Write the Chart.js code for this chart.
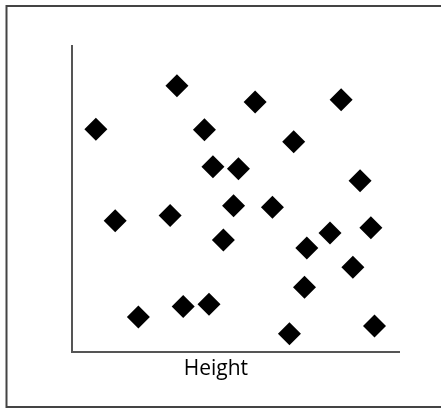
<!DOCTYPE html>
<html>
<head>
<meta charset="utf-8">
<script src="https://cdn.jsdelivr.net/npm/chart.js@4"></script>
<style>
  html, body { margin: 0; padding: 0; background: #fff; }
  #wrap { width: 441px; height: 409px; }
</style>
</head>
<body>
<div id="wrap"><canvas id="scatterChart" width="441" height="409"></canvas></div>
<script>
const xValues = [7.3, 32.1, 56.0, 82.3, 40.5, 67.8, 43.1, 50.9, 88.1, 13.2, 30.0, 49.4,
  61.3, 46.3, 71.8, 78.9, 91.4, 85.9, 71.1, 20.3, 34.0, 41.9, 66.5, 92.5];
const yValues = [72.8, 87.0, 81.7, 82.4, 72.6, 68.7, 60.5, 59.9, 56.0, 42.9, 44.6, 47.8,
  47.3, 36.6, 34.0, 38.9, 40.6, 27.7, 21.2, 11.4, 14.9, 15.6, 6.0, 8.5];
const xTitle = 'Height';

const points = xValues.map((x, i) => ({ x, y: yValues[i] }));

// frame round the picture + axis title
const framePlugin = {
  id: 'frame',
  beforeDraw(chart) {
    const ctx = chart.ctx;
    ctx.save();
    ctx.fillStyle = '#fff';
    ctx.fillRect(0, 0, chart.width, chart.height);
    ctx.strokeStyle = '#444';
    ctx.lineWidth = 2;
    ctx.beginPath();
    ctx.moveTo(chart.width + 2, 6);
    ctx.lineTo(6.5, 6);
    ctx.lineTo(6.5, 407);
    ctx.lineTo(chart.width + 2, 407);
    ctx.stroke();
    ctx.restore();
  },
  afterDraw(chart) {
    const xs = chart.scales.x;
    const ctx = chart.ctx;
    ctx.save();
    ctx.fillStyle = '#000';
    ctx.font = '21px "Open Sans"';
    ctx.textAlign = 'center';
    ctx.textBaseline = 'alphabetic';
    ctx.fillText(xTitle, xs.left + 0.44 * xs.width, 375);
    ctx.restore();
  }
};

new Chart(document.getElementById('scatterChart'), {
  type: 'scatter',
  data: {
    datasets: [{
      data: points,
      pointStyle: 'rectRot',
      pointRadius: 11.5,
      pointHoverRadius: 11.5,
      backgroundColor: '#000',
      borderWidth: 0
    }]
  },
  options: {
    responsive: false,
    animation: false,
    layout: { padding: { left: 72, right: 42, top: 46, bottom: 57 } },
    plugins: {
      legend: { display: false },
      tooltip: { enabled: false }
    },
    scales: {
      x: {
        min: 0, max: 100,
        ticks: { display: false },
        grid: { display: false, drawTicks: false },
        border: { color: '#555', width: 2 }
      },
      y: {
        min: 0, max: 100,
        ticks: { display: false },
        grid: { display: false, drawTicks: false },
        border: { color: '#555', width: 2 }
      }
    }
  },
  plugins: [framePlugin]
});
</script>
</body>
</html>
